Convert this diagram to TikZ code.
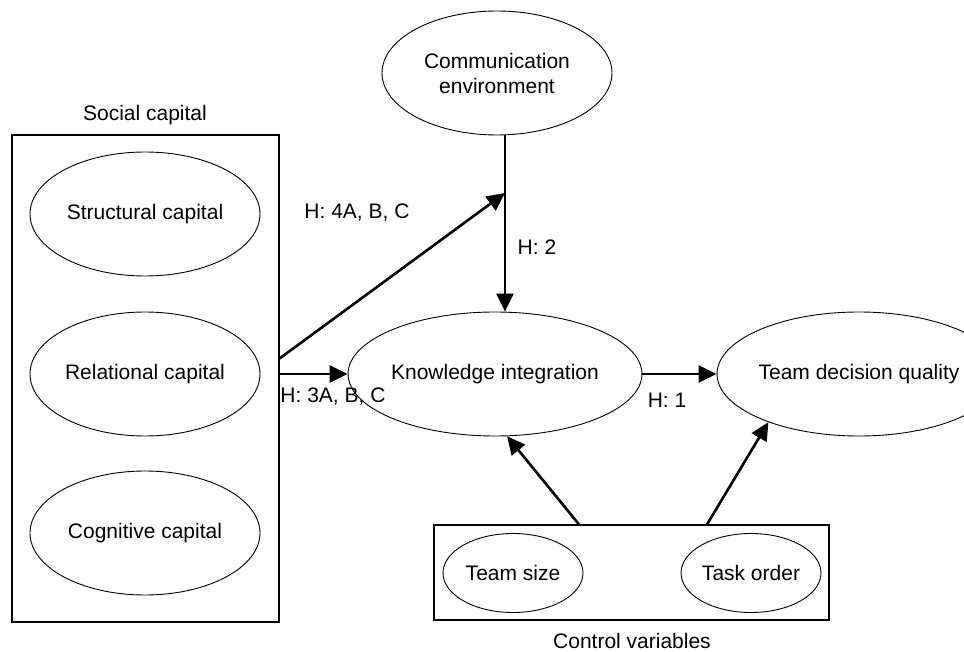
\documentclass[tikz,border=0pt]{standalone}
\usepackage{fontspec}
\setmainfont{Liberation Sans}
\usetikzlibrary{arrows.meta,shapes.geometric}
\tikzset{
  capell/.style={draw,ellipse,line width=0.9pt,minimum width=230pt,minimum height=124pt,inner sep=0pt},
  ctrlell/.style={draw,ellipse,line width=0.9pt,minimum width=140pt,minimum height=79pt,inner sep=0pt},
  frame/.style={draw,line width=1.1pt,inner sep=0pt},
  hyp/.style={-{Triangle[length=18pt,width=17pt]},line width=2.6pt},
  txt/.style={font=\fontsize{21}{25}\selectfont}
}

\begin{document}
\begin{tikzpicture}[x=1pt,y=-1pt,every node/.style={txt}]
  \useasboundingbox (0,0) rectangle (964,652);
  \node[frame,minimum width=267pt,minimum height=487pt] (social) at (145.5,378.5) {};
  \node (sociallab) at (145,115) {Social capital};
  \foreach \y/\nm/\lab in {214/struct/Structural,374/rel/Relational,533/cog/Cognitive}{
    \node[capell] (\nm) at (145,\y) {\lab\ capital};
  }
  \node[capell,align=center] (comm) at (497,73) {Communication\\environment};
  \node[capell] (ki) at (495,374) {Knowledge integration};
  \node[capell] (tdq) at (859,374) {Team decision quality};
  \node[frame,minimum width=395pt,minimum height=95pt] (ctrl) at (631.5,572.5) {};
  \node[ctrlell] (size) at (513,573) {Team size};
  \node[ctrlell] (order) at (751,573) {Task order};
  \node[inner sep=1pt] (ctrllab) at (632,641) {Control variables};

  \node (h4) at (357,213) {H: 4A, B, C};
  \node (h2) at (537,247) {H: 2};
  \node (h3) at (333,397) {H: 3A, B, C};
  \node (h1) at (667,400) {H: 1};

  \coordinate (moder) at (505,193);
  \draw[hyp] (comm.south -| moder) -- (ki.north -| moder);
  \draw[hyp] ([yshift=20pt]social.east) -- (moder);
  \draw[hyp] (social.east |- ki) -- (ki.west);
  \draw[hyp] (ki.east) -- (tdq.west);
  \draw[hyp] ([xshift=-52.5pt]ctrl.north) -- (ki.-79);
  \draw[hyp] ([xshift=75.5pt]ctrl.north) -- (tdq.208.5);
\end{tikzpicture}
\end{document}
